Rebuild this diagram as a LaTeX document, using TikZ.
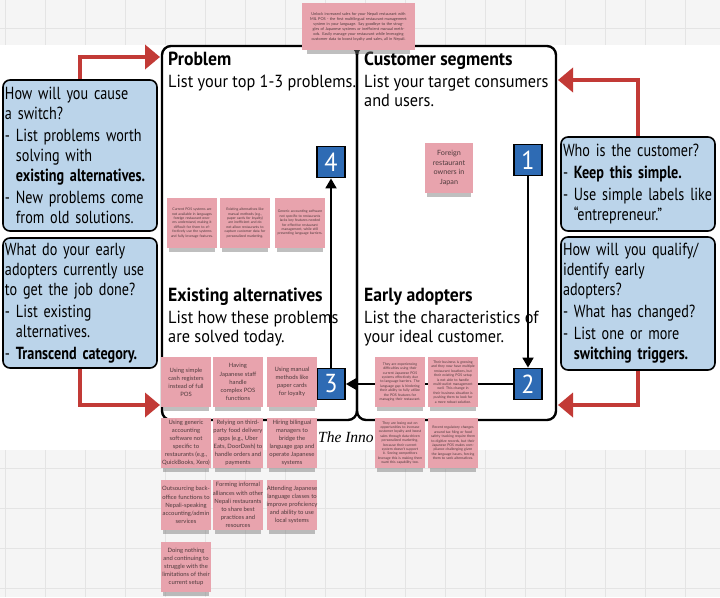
\documentclass[tikz,border=0pt]{standalone}
\usepackage{fontspec}
\newfontfamily\canvasfont[FakeStretch=0.93]{PT Sans}
\newfontfamily\hintfont[FakeStretch=0.81]{PT Sans}
\newfontfamily\notefont{Lato}
\newfontfamily\bookfont{Liberation Serif}
\usetikzlibrary{positioning,arrows.meta,shadows}

\definecolor{stickypink}{HTML}{E8A3AD}
\definecolor{stickyink}{HTML}{4E3A3C}
\definecolor{hintblue}{HTML}{BBD4EA}
\definecolor{stepblue}{HTML}{2E6BB4}
\definecolor{switchred}{HTML}{C23A36}
\definecolor{boardgray}{HTML}{F5F5F5}
\definecolor{gridgray}{HTML}{E4E4E4}

\newcommand{\cont}{\hphantom{-\ }}

\tikzset{
  panel/.style={draw=black, line width=2.4pt, rounded corners=9pt, minimum height=374pt},
  canvastitle/.style={anchor=north west, align=left, inner sep=0pt, font=\canvasfont\fontsize{17.5}{19}\selectfont},
  stepbox/.style={draw=black, line width=1.8pt, fill=stepblue, text=white, minimum width=28pt, minimum height=31pt, inner sep=0pt, font=\canvasfont\fontsize{26}{26}\selectfont},
  flowarrow/.style={line width=1.8pt, -{Triangle[length=10pt,width=11pt]}},
  hint/.style={draw=black, line width=1.6pt, fill=hintblue, rounded corners=7pt, align=left, text width=150pt, inner xsep=2pt, minimum width=154pt, font=\hintfont\fontsize{17.5}{20}\selectfont},
  switcharrow/.style={draw=switchred, line width=4pt, -{Triangle[length=15pt,width=24pt]}},
  sticky/.style={fill=stickypink, text=stickyink, minimum width=50pt, minimum height=50pt, inner sep=0pt, align=center, font=\notefont\fontsize{5.9}{8.1}\selectfont,
    drop shadow={shadow xshift=0pt, shadow yshift=-6pt, shadow scale=0.92, opacity=0.45, fill=black!55}},
  finesticky/.style={sticky, text width=45pt, font=\notefont\fontsize{3.5}{4.4}\selectfont},
}

\begin{document}
\begin{tikzpicture}[x=1pt,y=-1pt]
\useasboundingbox (0,0) rectangle (720,597);

% board
\fill[boardgray] (0,0) rectangle (720,597);
\foreach \gx in {5,45,...,720}
  \draw[gridgray, line width=0.6pt] (\gx,0) -- (\gx,597);
\foreach \gy in {28,68,...,597}
  \draw[gridgray, line width=0.6pt] (0,\gy) -- (720,\gy);
\fill[white] (0,45) rectangle (720,450);

% canvas frame
\node[panel, minimum width=195pt] (probpanel) at (259.5,233) {};
\node[panel, minimum width=199pt] (segpanel) at (456.5,233) {};

\node[canvastitle] (probtitle) at (168,52) {{\bfseries\fontsize{19}{19}\selectfont Problem}\\[3pt]List your top 1-3 problems.};
\node[canvastitle] (segtitle) at (364,52) {{\bfseries\fontsize{19}{19}\selectfont Customer segments}\\[3pt]List your target consumers\\and users.};
\node[canvastitle] (alttitle) at (168,288) {{\bfseries\fontsize{19}{19}\selectfont Existing alternatives}\\[3pt]List how these problems\\are solved today.};
\node[canvastitle] (adopttitle) at (364,288) {{\bfseries\fontsize{19}{19}\selectfont Early adopters}\\[3pt]List the characteristics of\\your ideal customer.};

\node[anchor=base west, inner sep=0pt, font=\bookfont\itshape\fontsize{15.5}{16}\selectfont] (booktitle) at (318,442) {The Inno};

% steps
\node[stepbox] (step1) at (528,160) {1};
\node[stepbox] (step2) at (528,384) {2};
\node[stepbox] (step3) at (331,384) {3};
\node[stepbox] (step4) at (331,162) {4};

\draw[flowarrow] (step1) -- (step2);
\draw[flowarrow] (step2) -- (step3);
\draw[flowarrow] (step3) -- (step4);

% hints
\node[hint, minimum height=151pt] (howswitch) at (80,155.5) {How will you cause\\a switch?\\[2pt]
- List problems worth\\\cont solving with\\\cont\mbox{\textbf{existing alternatives.}}\\[2pt]
- New problems come\\\cont from old solutions.};
\node[hint, minimum height=130pt] (getjob) at (80,303) {What do your early\\\mbox{adopters currently use}\\to get the job done?\\[2pt]
- List existing\\\cont alternatives.\\[2pt]
\mbox{- \textbf{Transcend category.}}};
\node[hint, minimum height=94pt] (whocust) at (638,184) {Who is the customer?\\[2pt]
- \textbf{Keep this simple.}\\[2pt]
\mbox{- Use simple labels like}\\\cont “entrepreneur.”};
\node[hint, minimum height=133pt] (qualify) at (638,303.5) {How will you qualify/\\identify early\\adopters?\\[2pt]
- What has changed?\\[2pt]
- List one or more\\\cont\mbox{\textbf{switching triggers.}}};

\coordinate (probentry) at (160,57);
\coordinate (altentry) at (160,405);
\coordinate (segentry) at (558,80);
\coordinate (adoptentry) at (558,405);

\draw[switcharrow] (howswitch.north) |- (probentry);
\draw[switcharrow] (getjob.south) |- (altentry);
\draw[switcharrow] (whocust.north) |- (segentry);
\draw[switcharrow] (qualify.south) |- (adoptentry);

% stickies
\node[finesticky, minimum width=113pt, minimum height=47pt, text width=108pt, font=\notefont\fontsize{3.9}{5}\selectfont] (pitch) at (358.5,26.5)
  {Unlock increased sales for your Nepali restaurant with MIL POS - the first multilingual restaurant management system in your language. Say goodbye to the struggles of Japanese systems or inefficient manual methods. Easily manage your restaurant while leveraging customer data to boost loyalty and sales, all in Nepali.};

\node[finesticky] (prob1) at (192,223) {Current POS systems are not available in languages foreign restaurant owners understand, making it difficult for them to effectively use the systems and fully leverage features.};
\node[finesticky] (prob2) at (245,223) {Existing alternatives like manual methods (e.g., paper cards for loyalty) are inefficient and do not allow restaurants to capture customer data for personalized marketing.};
\node[finesticky] (prob3) at (300,223) {Generic accounting software not specific to restaurants lacks key features needed for effective restaurant management, while still presenting language barriers.};

\node[sticky, minimum width=48pt, font=\notefont\fontsize{7.2}{9.5}\selectfont] (seg1) at (449,168) {Foreign\\restaurant\\owners in\\Japan};

\node[finesticky] (adopt1) at (400,382) {They are experiencing difficulties using their current Japanese POS systems effectively due to language barriers. The language gap is hindering their ability to fully utilize the POS features for managing their restaurant.};
\node[finesticky] (adopt2) at (453,382) {Their business is growing and they now have multiple restaurant locations, but their existing POS setup is not able to handle multi-outlet management well. This change in their business situation is pushing them to look for a more robust solution.};
\node[finesticky] (adopt3) at (400,443) {They are losing out on opportunities to increase customer loyalty and boost sales through data-driven personalized marketing, because their current system doesn't support it. Seeing competitors leverage this is making them want this capability too.};
\node[finesticky] (adopt4) at (453,443) {Recent regulatory changes around tax filing or food safety tracking require them to digitize records, but their Japanese POS makes compliance challenging given the language issues, forcing them to seek alternatives.};

\node[sticky] (alt1) at (186,382) {Using simple\\cash registers\\instead of full\\POS};
\node[sticky] (alt2) at (238,382) {Having\\Japanese staff\\handle\\complex POS\\functions};
\node[sticky] (alt3) at (292,382) {Using manual\\methods like\\paper cards\\for loyalty};
\node[sticky] (alt4) at (186,443) {Using generic\\accounting\\software not\\specific to\\restaurants (e.g.,\\QuickBooks, Xero)};
\node[sticky] (alt5) at (238,443) {Relying on third-\\party food delivery\\apps (e.g., Uber\\Eats, DoorDash) to\\handle orders and\\payments};
\node[sticky] (alt6) at (292,443) {Hiring bilingual\\managers to\\bridge the\\language gap and\\operate Japanese\\systems};
\node[sticky] (alt7) at (186,505) {Outsourcing back-\\office functions to\\Nepali-speaking\\accounting/admin\\services};
\node[sticky] (alt8) at (238,505) {Forming informal\\alliances with other\\Nepali restaurants\\to share best\\practices and\\resources};
\node[sticky] (alt9) at (292,505) {Attending Japanese\\language classes to\\improve proficiency\\and ability to use\\local systems};
\node[sticky] (alt10) at (186,567) {Doing nothing\\and continuing to\\struggle with the\\limitations of their\\current setup};

\end{tikzpicture}
\end{document}
